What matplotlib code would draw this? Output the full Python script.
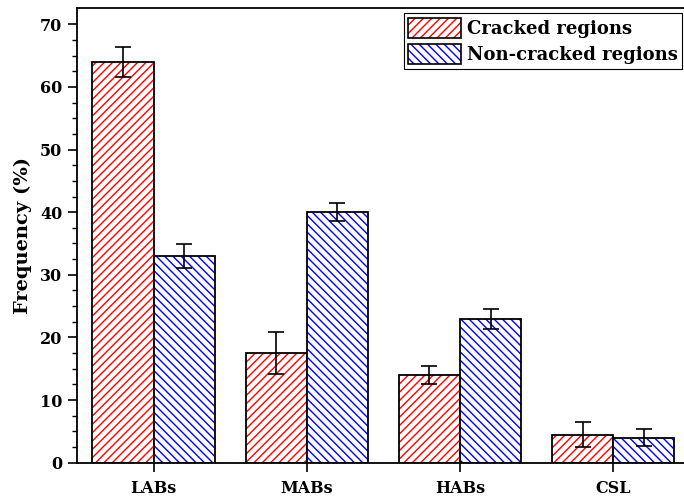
import matplotlib
matplotlib.use('Agg')
import matplotlib.pyplot as plt
import numpy as np
from matplotlib.patches import Patch
from matplotlib.legend_handler import HandlerTuple

categories = ['LABs', 'MABs', 'HABs', 'CSL']
cracked = [64.0, 17.5, 14.0, 4.5]
cracked_err = [2.4, 3.4, 1.4, 2.0]
non_cracked = [33.0, 40.0, 23.0, 4.0]
non_cracked_err = [1.9, 1.4, 1.6, 1.35]

plt.rcParams['font.family'] = 'DejaVu Serif'
plt.rcParams['font.weight'] = 'bold'
plt.rcParams['hatch.linewidth'] = 1.0

fig = plt.figure(figsize=(6.84, 4.98), dpi=100)
ax = fig.add_axes([0.1126, 0.0709, 0.8958, 0.913])

x = np.arange(1, len(categories) + 1)
w = 0.4
red_hatch = '/' * 4
blue_hatch = '\\' * 4


def hatched_bars(pos, vals, errs, color, hatch):
    # hatch in colour, outline in black drawn on top
    ax.bar(pos, vals, w, color='white', edgecolor=color, hatch=hatch, linewidth=0)
    ax.bar(pos, vals, w, fill=False, edgecolor='black', linewidth=1.3)
    ax.errorbar(pos, vals, yerr=errs, fmt='none', ecolor='black',
                elinewidth=1.2, capsize=5.5, capthick=1.2)


hatched_bars(x - w / 2, cracked, cracked_err, 'red', red_hatch)
hatched_bars(x + w / 2, non_cracked, non_cracked_err, 'blue', blue_hatch)

ax.set_xlim(0.5, 4.5)
ax.set_ylim(0, 72.6)
ax.set_xticks(x)
ax.set_xticklabels(categories, fontsize=11.5, fontweight='bold')
ax.set_yticks(range(0, 71, 10))
ax.set_yticks(np.arange(0, 72, 2.5), minor=True)
ax.tick_params(axis='both', which='major', direction='out', length=6.5, width=1.2,
               labelsize=11.5, pad=4)
ax.tick_params(axis='x', which='major', pad=6)
ax.tick_params(axis='y', which='minor', direction='out', length=3.5, width=1.0)
ax.tick_params(axis='x', which='minor', bottom=False)
for s in ax.spines.values():
    s.set_linewidth(1.3)
ax.set_ylabel('Frequency (%)', fontsize=14, fontweight='bold', labelpad=6)

h_red = (Patch(facecolor='white', edgecolor='red', hatch=red_hatch, linewidth=0),
         Patch(fill=False, edgecolor='black', linewidth=1.2))
h_blue = (Patch(facecolor='white', edgecolor='blue', hatch=blue_hatch, linewidth=0),
          Patch(fill=False, edgecolor='black', linewidth=1.2))
leg = ax.legend([h_red, h_blue], ['Cracked regions', 'Non-cracked regions'],
                handler_map={tuple: HandlerTuple(ndivide=1)},
                loc='upper right', bbox_to_anchor=(0.988, 0.988),
                prop={'weight': 'bold', 'size': 13},
                fancybox=False, edgecolor='black', framealpha=1,
                handlelength=2.9, handleheight=1.3, handletextpad=0.35,
                borderpad=0.25, labelspacing=0.35, borderaxespad=0)
leg.get_frame().set_linewidth(0.8)

fig.savefig('out.png', dpi=100)
